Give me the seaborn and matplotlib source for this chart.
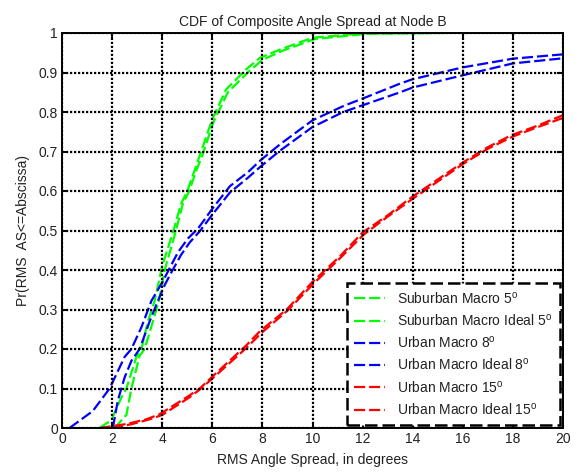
import matplotlib
matplotlib.use("Agg")
import matplotlib.pyplot as plt
import seaborn as sns
import pandas as pd
from matplotlib.lines import Line2D

# Empirical CDF readings: RMS angle spread (degrees) vs Pr(AS <= x)
sub_x = [1.5, 1.97, 2.37, 2.57, 2.97, 3.17, 3.43, 3.7, 4.0, 4.45, 4.75, 5.0, 5.28, 5.5,
         6.0, 6.55, 7.35, 7.9, 8.7, 10.0, 12.0, 15.3]
sub_y = [0.0, 0.02, 0.077, 0.1, 0.18, 0.2, 0.27, 0.322, 0.41, 0.5, 0.567, 0.6, 0.65, 0.69,
         0.782, 0.857, 0.908, 0.937, 0.958, 0.988, 0.999, 1.0]
sub_ideal_x = [2.1, 2.57, 2.77, 3.1, 3.3, 3.63, 3.87, 4.1, 4.55, 4.82, 5.08, 5.35, 5.58,
               6.05, 6.62, 7.45, 8.0, 8.8, 10.1, 12.2, 14.8]
sub_ideal_y = [0.0, 0.033, 0.1, 0.183, 0.2, 0.27, 0.322, 0.4, 0.5, 0.567, 0.6, 0.65, 0.686,
               0.775, 0.85, 0.902, 0.932, 0.955, 0.985, 0.998, 1.0]

urb8_x = [0.3, 1.23, 1.9, 2.5, 2.77, 3.17, 3.57, 4.03, 4.3, 4.63, 5.03, 5.43, 6.0, 6.7,
          7.43, 7.93, 8.7, 10.0, 11.23, 12.0, 13.5, 14.0, 16.0, 18.0, 20.0]
urb8_y = [0.0, 0.043, 0.1, 0.18, 0.2, 0.255, 0.322, 0.372, 0.405, 0.445, 0.48, 0.505,
          0.555, 0.612, 0.648, 0.678, 0.718, 0.779, 0.815, 0.834, 0.872, 0.883, 0.913,
          0.935, 0.946]
urb8_ideal_x = [2.03, 2.23, 2.5, 2.77, 3.1, 3.5, 3.83, 4.1, 4.4, 4.75, 5.1, 5.5, 6.0, 6.7,
                7.43, 7.93, 8.7, 10.0, 11.23, 12.0, 13.5, 14.0, 16.0, 18.0, 20.0]
urb8_ideal_y = [0.0, 0.07, 0.128, 0.17, 0.2, 0.27, 0.322, 0.362, 0.398, 0.438, 0.47, 0.498,
                0.54, 0.596, 0.634, 0.662, 0.702, 0.762, 0.8, 0.817, 0.85, 0.862, 0.893,
                0.923, 0.936]

urb15_x = [1.5, 2.57, 3.37, 3.9, 5.03, 5.5, 6.0, 7.37, 7.9, 8.97, 10.0, 11.1, 12.0, 12.97,
           13.93, 15.97, 16.97, 17.93, 18.97, 20.0]
urb15_y = [0.0, 0.01, 0.022, 0.035, 0.08, 0.1, 0.13, 0.21, 0.245, 0.3, 0.37, 0.435, 0.495,
           0.537, 0.583, 0.671, 0.71, 0.741, 0.765, 0.792]
urb15_ideal_x = [2.0, 2.8, 3.5, 4.0, 5.1, 5.55, 6.05, 7.4, 7.95, 9.0, 10.05, 11.1, 12.05,
                 13.0, 13.95, 16.0, 17.0, 18.0, 19.0, 20.0]
urb15_ideal_y = [0.0, 0.01, 0.022, 0.033, 0.078, 0.1, 0.128, 0.205, 0.24, 0.297, 0.366,
                 0.43, 0.49, 0.535, 0.578, 0.668, 0.707, 0.738, 0.762, 0.785]

series_names = [
    "Suburban Macro 5$^{\\mathrm{o}}$",
    "Suburban Macro Ideal 5$^{\\mathrm{o}}$",
    "Urban Macro 8$^{\\mathrm{o}}$",
    "Urban Macro Ideal 8$^{\\mathrm{o}}$",
    "Urban Macro 15$^{\\mathrm{o}}$",
    "Urban Macro Ideal 15$^{\\mathrm{o}}$",
]
series_x = [sub_x, sub_ideal_x, urb8_x, urb8_ideal_x, urb15_x, urb15_ideal_x]
series_y = [sub_y, sub_ideal_y, urb8_y, urb8_ideal_y, urb15_y, urb15_ideal_y]
series_colors = ["#00ff00", "#00ff00", "#0000ff", "#0000ff", "#ff0000", "#ff0000"]

x_ticks = [0, 2, 4, 6, 8, 10, 12, 14, 16, 18, 20]
y_ticks = [0, 0.1, 0.2, 0.3, 0.4, 0.5, 0.6, 0.7, 0.8, 0.9, 1]
y_tick_labels = ["0", "0.1", "0.2", "0.3", "0.4", "0.5", "0.6", "0.7", "0.8", "0.9", "1"]

sns.set_theme(style="white")
plt.rcParams["font.family"] = ["Liberation Sans", "DejaVu Sans"]
plt.rcParams["mathtext.fontset"] = "custom"
plt.rcParams["mathtext.rm"] = "Liberation Sans"

fig = plt.figure(figsize=(5.81, 4.76), dpi=100)
ax = fig.add_axes([62 / 581, 1 - 428 / 476, (563 - 62) / 581, (428 - 33) / 476])

frames = []
for name, xs, ys in zip(series_names, series_x, series_y):
    frames.append(pd.DataFrame({"as": xs, "cdf": ys, "series": name}))
df = pd.concat(frames, ignore_index=True)

dash = (5, 1.8)
handles = []
for name, color in zip(series_names, series_colors):
    sub = df[df["series"] == name]
    sns.lineplot(data=sub, x="as", y="cdf", ax=ax, color=color, linewidth=1.6,
                 estimator=None, sort=False, legend=False)
    ax.lines[-1].set_dashes(dash)
    handles.append(Line2D([], [], color=color, linewidth=1.6, dashes=dash))

ax.set_xlim(0, 20)
ax.set_ylim(0, 1)
ax.set_xticks(x_ticks)
ax.set_yticks(y_ticks)
ax.set_yticklabels(y_tick_labels)
ax.grid(True, color="black", linestyle=(0, (1, 0.8)), linewidth=1.6)
ax.set_axisbelow(False)
for s in ax.spines.values():
    s.set_visible(True)
    s.set_color("black")
    s.set_linewidth(1.4)
ax.tick_params(direction="in", length=4, width=1.4, colors="black",
               top=True, right=True, bottom=True, left=True, labelsize=10, pad=3)
for lab in ax.get_xticklabels() + ax.get_yticklabels():
    lab.set_color("#222222")

ax.set_title("CDF of Composite Angle Spread at Node B", fontsize=10, color="#222222", pad=5)
ax.set_xlabel("RMS Angle Spread, in degrees", fontsize=10, color="#222222", labelpad=5)
ax.set_ylabel("Pr(RMS  AS<=Abscissa)", fontsize=10, color="#222222", labelpad=6)

leg = ax.legend(handles, series_names, loc="lower right", fontsize=10,
                frameon=True, fancybox=False, borderaxespad=0.25,
                handlelength=2.2, handletextpad=0.9, labelspacing=0.45,
                borderpad=0.5, framealpha=1)
frame = leg.get_frame()
frame.set_edgecolor("black")
frame.set_linewidth(1.8)
frame.set_linestyle((0, (5, 2)))
for t in leg.get_texts():
    t.set_color("#222222")

fig.savefig("out.png", dpi=100)
